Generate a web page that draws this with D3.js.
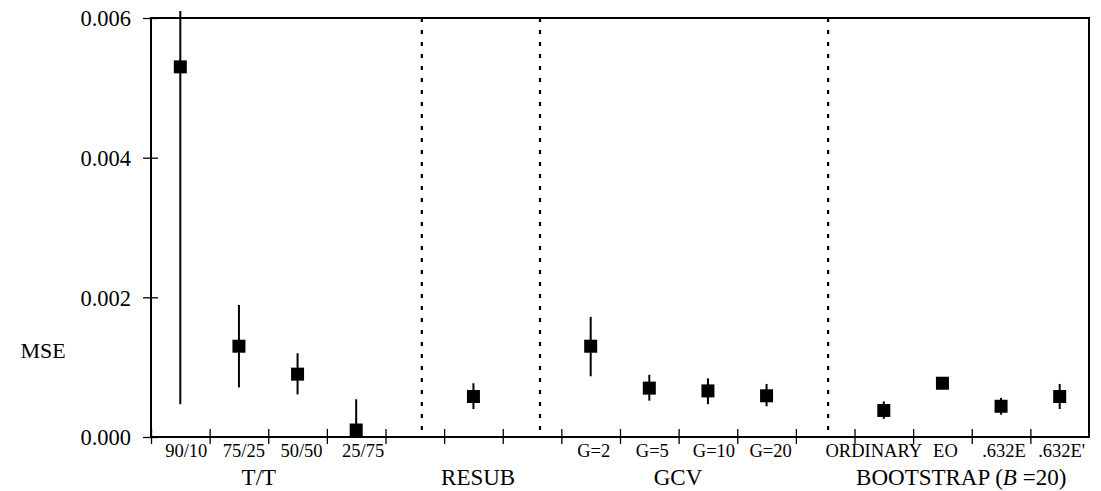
<!DOCTYPE html>
<html>
<head>
<meta charset="utf-8">
<script src="https://cdn.jsdelivr.net/npm/d3@7"></script>
<style>
  html, body { margin: 0; padding: 0; background: #fff; }
  svg { display: block; font-family: "Liberation Serif", "Times New Roman", serif; }
</style>
</head>
<body>
<svg id="chart" width="1101" height="491"></svg>
<script>
// Estimation methods, one slot per tick interval ("" = unlabeled slot)
const methods = ["90/10", "75/25", "50/50", "25/75", "", "", "", "G=2", "G=5", "G=10", "G=20", "", "ORDINARY", "EO", ".632E", ".632E'"];
// Mean squared error per slot (null = no estimate drawn)
const mse   = [0.0053, 0.0013, 0.0009, 0.0001, null, 0.00058, null, 0.0013, 0.0007, 0.00066, 0.00059, null, 0.00038, 0.00077, 0.00044, 0.00058];
const lower = [0.00047, 0.00071, 0.00061, 0.0, null, 0.0004, null, 0.00087, 0.00052, 0.00047, 0.00044, null, 0.00026, 0.00074, 0.00032, 0.0004];
const upper = [0.0061, 0.00189, 0.0012, 0.00054, null, 0.00077, null, 0.00172, 0.00089, 0.00084, 0.00076, null, 0.00051, 0.0008, 0.00056, 0.00076];
// Y tick values and their labels
const yTicks = [0, 0.002, 0.004, 0.006];
const yTickLabels = ["0.000", "0.002", "0.004", "0.006"];
// Method families along the x axis
const groups = ["T/T", "RESUB", "GCV", "BOOTSTRAP"];

// Layout (slot units along x; label nudges in px)
const groupAt = [1.84, 5.58, 8.99, 13.82];
const dividerAt = [4.62, 6.635, 11.55];
const labelNudge = [6, 5, 4, 7, 0, 0, 0, 3, 3, 6, 4, 0, -10, 3, 3, 2];

const svg = d3.select("#chart");
const plotL = 151, plotR = 1089, plotT = 18, plotB = 437;

const x = d3.scaleLinear().domain([0, methods.length]).range([plotL, plotR]);
const y = d3.scaleLinear().domain([0, 0.006]).range([plotB, plotT]);

svg.append("rect").attr("width", 1101).attr("height", 491).attr("fill", "#fff");

// Group dividers
svg.append("g").selectAll("line").data(dividerAt).join("line")
  .attr("x1", d => x(d)).attr("x2", d => x(d))
  .attr("y1", plotT).attr("y2", plotB)
  .attr("stroke", "#000").attr("stroke-width", 2.2)
  .attr("stroke-dasharray", "4,8");

// Frame
svg.append("rect")
  .attr("x", plotL).attr("y", plotT)
  .attr("width", plotR - plotL).attr("height", plotB - plotT)
  .attr("fill", "none").attr("stroke", "#000").attr("stroke-width", 2);

// Y axis with ticks crossing the axis line
const yAxis = d3.axisLeft(y).tickValues(yTicks)
  .tickFormat((d, i) => yTickLabels[i]).tickSizeInner(-7).tickSizeOuter(0).tickPadding(0);
const gy = svg.append("g").attr("transform", `translate(${plotL},0)`).call(yAxis);
gy.select(".domain").remove();
gy.selectAll(".tick line").attr("x1", -8).attr("x2", 7).attr("stroke", "#000").attr("stroke-width", 1.3);
gy.selectAll(".tick text")
  .attr("x", -20).attr("dy", "0.35em")
  .attr("fill", "#000")
  .style("font-family", "'Liberation Serif', serif")
  .style("font-size", "22.5px");

// X axis: a tick at every slot boundary
const xAxis = d3.axisBottom(x).tickValues(d3.range(0, methods.length)).tickFormat("")
  .tickSizeOuter(0);
const gx = svg.append("g").attr("transform", `translate(0,${plotB})`).call(xAxis);
gx.select(".domain").remove();
gx.selectAll(".tick line").attr("y1", -8).attr("y2", 7).attr("stroke", "#000").attr("stroke-width", 1.3);

// Method labels under each slot
svg.append("g").selectAll("text").data(methods).join("text")
  .attr("x", (d, i) => x(i + 0.5) + labelNudge[i])
  .attr("y", 457)
  .attr("text-anchor", "middle")
  .style("font-size", "18.5px")
  .text(d => d);

// Family labels
const gl = svg.append("g").selectAll("text").data(groups).join("text")
  .attr("x", (d, i) => x(groupAt[i]))
  .attr("y", 485)
  .attr("text-anchor", "middle")
  .style("font-size", "23px");
gl.each(function(d) {
  const t = d3.select(this);
  t.append("tspan").text(d);
  if (d === "BOOTSTRAP") {
    t.append("tspan").text(" (");
    t.append("tspan").style("font-style", "italic").text("B");
    t.append("tspan").text(" =20)");
  }
});

// Y axis title
svg.append("text")
  .attr("x", 43).attr("y", 358)
  .attr("text-anchor", "middle")
  .style("font-size", "22px")
  .text("MSE");

// Error bars and point estimates
const pts = methods.map((m, i) => ({ i, v: mse[i], lo: lower[i], hi: upper[i] })).filter(d => d.v !== null);
const yClip = v => Math.min(plotB, y(v));

svg.append("g").selectAll("line").data(pts).join("line")
  .attr("x1", d => x(d.i + 0.5)).attr("x2", d => x(d.i + 0.5))
  .attr("y1", d => yClip(d.lo)).attr("y2", d => y(d.hi))
  .attr("stroke", "#000").attr("stroke-width", 2);

const s = 13;
svg.append("g").selectAll("rect").data(pts).join("rect")
  .attr("x", d => x(d.i + 0.5) - s / 2)
  .attr("y", d => y(d.v) - s / 2)
  .attr("width", s).attr("height", s)
  .attr("fill", "#000");
</script>
</body>
</html>
